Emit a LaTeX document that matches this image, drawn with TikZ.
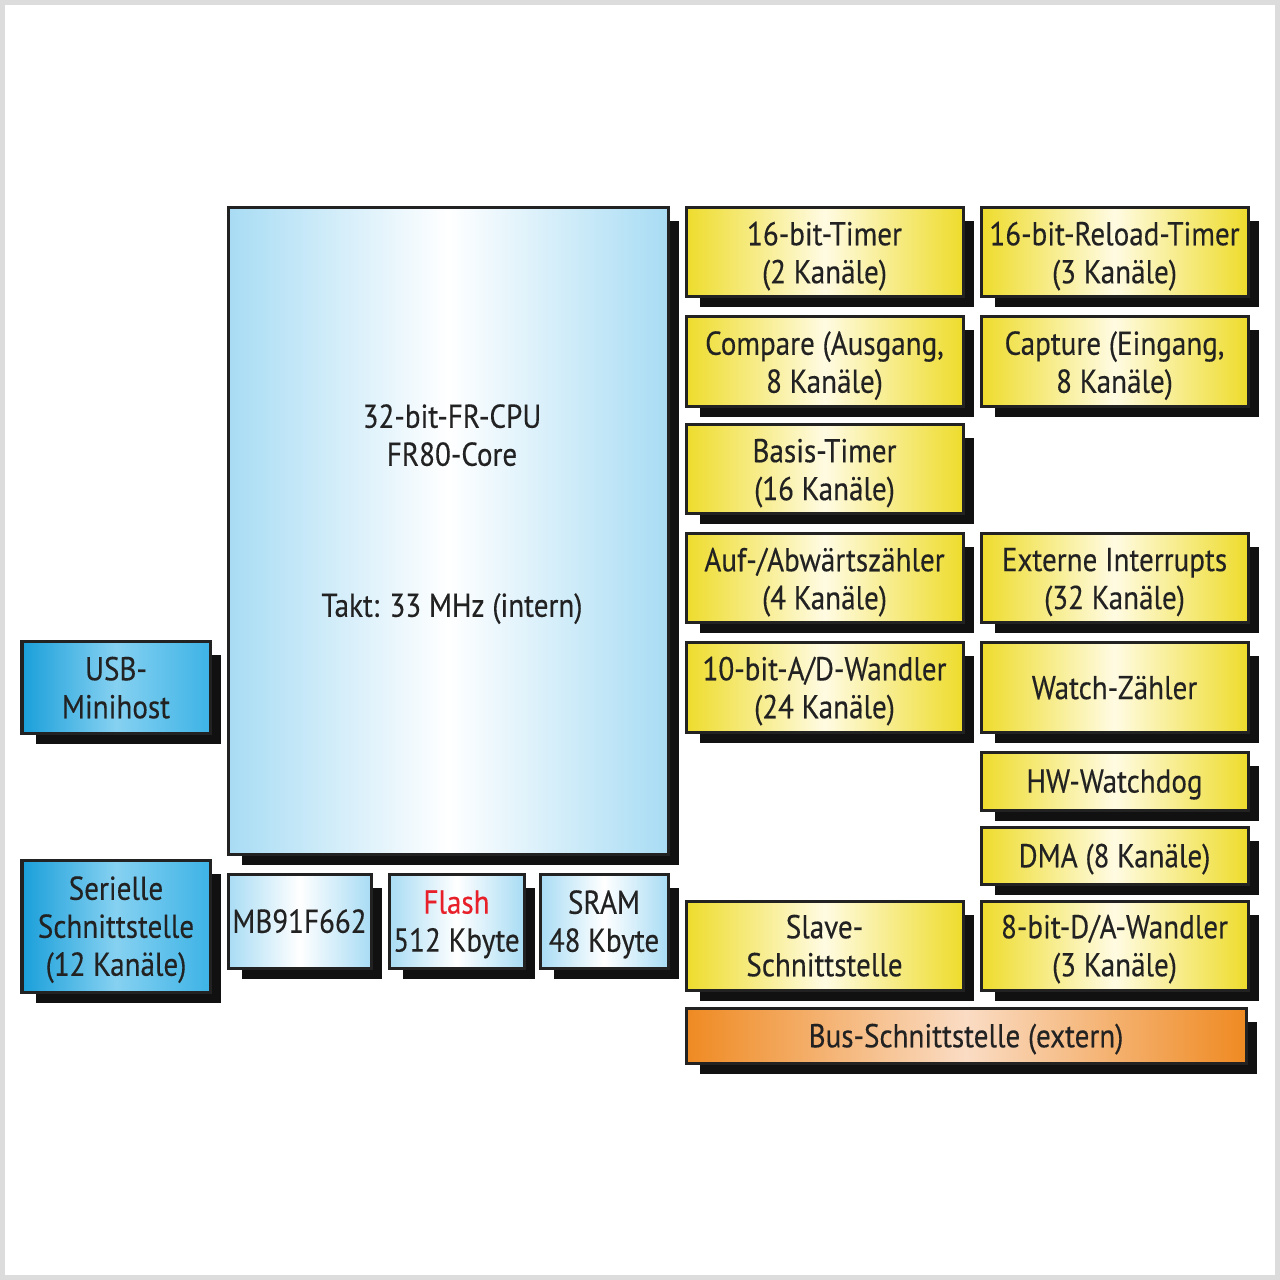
\documentclass[tikz,border=0pt]{standalone}
\usepackage{fontspec}
\setmainfont[FakeStretch=0.88,FakeBold=0.3]{PT Sans}
\usetikzlibrary{calc,backgrounds}
\definecolor{ink}{HTML}{222222}
\definecolor{yelE}{HTML}{EEDC2C}
\definecolor{yelM}{HTML}{FFFBE2}
\definecolor{orE}{HTML}{EF8A22}
\definecolor{orM}{HTML}{FADCC4}
\definecolor{bluL}{HTML}{1A9FDA}
\definecolor{bluM}{HTML}{86D1F1}
\definecolor{bluR}{HTML}{3DB3E6}
\definecolor{lbE}{HTML}{A8DCF4}
\definecolor{flashred}{HTML}{E8202A}
\definecolor{frame}{HTML}{DCDCDC}
\definecolor{shade}{HTML}{111111}
\newcommand\mkbox[7]{\node[#6, minimum width={(#4-#2)*0.01cm}, minimum height={(#5-#3)*0.01cm}] (#1) at ({(#2+#4)/2},{(#3+#5)/2}) {#7};}
\begin{document}
\begin{tikzpicture}[x=0.01cm,y=-0.01cm,
  txt/.style={align=center, text=ink, text depth=0pt, font=\fontsize{9.4}{10.8}\selectfont},
  box/.style={txt, draw=ink, line width=0.03cm, inner sep=0pt},
  ybox/.style={box, left color=yelE, right color=yelE, middle color=yelM},
  obox/.style={box, left color=orE, right color=orE, middle color=orM},
  bbox/.style={box, left color=bluL, right color=bluR, middle color=bluM},
  lbox/.style={box, left color=lbE, right color=lbE, middle color=white},
  shadowbox/.style={fill=shade},
  frameline/.style={draw=frame, line width=0.05cm}]
\useasboundingbox (0,0) rectangle (1280,1280);

\mkbox{cpu}{228}{208}{668}{854}{lbox}{}
\mkbox{usb}{22}{642}{210}{733}{bbox}{USB-\\Minihost}
\mkbox{ser}{22}{860}{210}{992}{bbox}{Serielle\\Schnittstelle\\(12 Kanäle)}
\mkbox{mb}{228}{874}{371}{968}{lbox}{MB91F662}
\mkbox{flash}{389}{874}{524}{968}{lbox}{\textcolor{flashred}{Flash}\\512 Kbyte}
\mkbox{sram}{540}{874}{668}{968}{lbox}{SRAM\\48 Kbyte}
\mkbox{t16}{686}{208}{963}{297}{ybox}{16-bit-Timer\\(2 Kanäle)}
\mkbox{rt}{981}{208}{1248}{297}{ybox}{16-bit-Reload-Timer\\(3 Kanäle)}
\mkbox{cmp}{686}{317}{963}{407}{ybox}{Compare (Ausgang,\\8 Kanäle)}
\mkbox{cap}{981}{317}{1248}{407}{ybox}{Capture (Eingang,\\8 Kanäle)}
\mkbox{bt}{686}{425}{963}{514}{ybox}{Basis-Timer\\(16 Kanäle)}
\mkbox{ud}{686}{534}{963}{623}{ybox}{Auf-/Abwärtszähler\\(4 Kanäle)}
\mkbox{ext}{981}{534}{1248}{623}{ybox}{Externe Interrupts\\(32 Kanäle)}
\mkbox{adc}{686}{643}{963}{732}{ybox}{10-bit-A/D-Wandler\\(24 Kanäle)}
\mkbox{wz}{981}{643}{1248}{732}{ybox}{Watch-Zähler}
\mkbox{wd}{981}{752}{1248}{810}{ybox}{HW-Watchdog}
\mkbox{dma}{981}{827}{1248}{884}{ybox}{DMA (8 Kanäle)}
\mkbox{sl}{686}{901}{963}{990}{ybox}{Slave-\\Schnittstelle}
\mkbox{dac}{981}{901}{1248}{990}{ybox}{8-bit-D/A-Wandler\\(3 Kanäle)}
\mkbox{bus}{686}{1008}{1246}{1063}{obox}{Bus-Schnittstelle (extern)}

\node[txt] (cpuname) at (452,435) {32-bit-FR-CPU\\FR80-Core};
\node[txt] (takt) at (452,605) {Takt: 33 MHz (intern)};

\begin{scope}[on background layer]
\fill[white] (0,0) rectangle (1280,1280);
\draw[frameline] (2.5,2.5) rectangle (1277.5,1277.5);
\foreach \n in {cpu,usb,ser,mb,flash,sram,t16,rt,cmp,cap,bt,ud,ext,adc,wz,wd,dma,sl,dac,bus}
  \fill[shadowbox] ($(\n.north west)+(15,15)$) rectangle ($(\n.south east)+(9,9)$);
\end{scope}
\end{tikzpicture}
\end{document}
